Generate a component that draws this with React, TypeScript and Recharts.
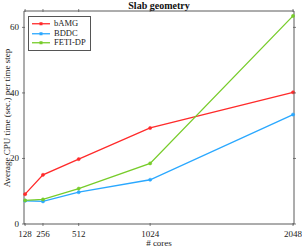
import React from "react";
import { LineChart, Line, XAxis, YAxis } from "recharts";

const cores = [128, 256, 512, 1024, 2048];
const bamg = [9.1, 15.0, 19.8, 29.3, 40.2];
const bddc = [7.1, 6.9, 9.7, 13.5, 33.4];
const fetidp = [7.2, 7.5, 10.8, 18.5, 63.5];
const xTicks = [128, 256, 512, 1024, 2048];
const yTicks = [0, 20, 40, 60];

const series = [
  { key: "bAMG", color: "#ff2a2a" },
  { key: "BDDC", color: "#2aa8ff" },
  { key: "FETI-DP", color: "#77cc2a" },
];

const data = cores.map((c, i) => ({
  cores: c,
  bAMG: bamg[i],
  BDDC: bddc[i],
  "FETI-DP": fetidp[i],
}));

const FONT = "'Liberation Serif', 'DejaVu Serif', serif";
const AXIS = "#5a5a5a";

function BottomTick(props: any) {
  const { x, y, payload } = props;
  return (
    <g>
      <line x1={x} y1={y} x2={x} y2={y - 3} stroke={AXIS} strokeWidth={0.8} />
      <text x={x} y={y + 11} textAnchor="middle" fontFamily={FONT} fontSize={9} fill="#222">
        {payload.value}
      </text>
    </g>
  );
}

function TopTick(props: any) {
  const { x, y } = props;
  return <line x1={x} y1={y} x2={x} y2={y + 3} stroke={AXIS} strokeWidth={0.8} />;
}

function LeftTick(props: any) {
  const { x, y, payload } = props;
  return (
    <g>
      <line x1={x} y1={y} x2={x + 3} y2={y} stroke={AXIS} strokeWidth={0.8} />
      <text x={x - 3} y={y + 3} textAnchor="end" fontFamily={FONT} fontSize={9} fill="#222">
        {payload.value}
      </text>
    </g>
  );
}

function RightTick(props: any) {
  const { x, y } = props;
  return <line x1={x} y1={y} x2={x - 3} y2={y} stroke={AXIS} strokeWidth={0.8} />;
}

function LegendBox() {
  return (
    <div
      style={{
        position: "absolute",
        left: 28,
        top: 16,
        border: "1px solid #555",
        background: "#fff",
        padding: "2px 4px 2px 2px",
        fontFamily: FONT,
        fontSize: 8.5,
        lineHeight: "9.5px",
        color: "#222",
      }}
    >
      {series.map((s) => (
        <div key={s.key} style={{ display: "flex", alignItems: "center" }}>
          <svg width={20} height={9.5} style={{ marginRight: 3 }}>
            <line x1={1} y1={4.75} x2={19} y2={4.75} stroke={s.color} strokeWidth={1.3} />
            <rect x={8.5} y={3.25} width={3} height={3} fill={s.color} />
          </svg>
          <span>{s.key}</span>
        </div>
      ))}
    </div>
  );
}

export default function App() {
  return (
    <div style={{ position: "fixed", left: 0, top: 0, width: 302, height: 248, background: "#fff" }}>
      <LineChart width={302} height={248} data={data} margin={{ top: 10, right: 7, bottom: 0, left: 0 }}>
        <XAxis
          dataKey="cores"
          type="number"
          domain={[120, 2055]}
          ticks={xTicks}
          height={24}
          tickLine={false}
          tickSize={0}
          tick={<BottomTick />}
          stroke={AXIS}
          interval={0}
        />
        <XAxis
          xAxisId="top"
          orientation="top"
          type="number"
          dataKey="cores"
          domain={[120, 2055]}
          ticks={xTicks}
          height={1}
          tickLine={false}
          tickSize={0}
          tick={<TopTick />}
          stroke={AXIS}
          interval={0}
        />
        <YAxis
          type="number"
          domain={[0, 65]}
          ticks={yTicks}
          width={24}
          tickLine={false}
          tickSize={0}
          tick={<LeftTick />}
          stroke={AXIS}
          interval={0}
        />
        <YAxis
          yAxisId="right"
          orientation="right"
          type="number"
          domain={[0, 65]}
          ticks={yTicks}
          width={1}
          tickLine={false}
          tickSize={0}
          tick={<RightTick />}
          stroke={AXIS}
          interval={0}
        />
        {/* invisible series so the top/right box axes get drawn */}
        <Line
          xAxisId="top"
          yAxisId="right"
          dataKey="bAMG"
          stroke="none"
          dot={false}
          activeDot={false}
          legendType="none"
          isAnimationActive={false}
        />
        {series.map((s) => (
          <Line
            key={s.key}
            dataKey={s.key}
            stroke={s.color}
            strokeWidth={1.3}
            dot={{ r: 1.6, fill: s.color, stroke: s.color, strokeWidth: 0.5 }}
            isAnimationActive={false}
            type="linear"
          />
        ))}
      </LineChart>
      <div
        style={{
          position: "absolute",
          left: 24,
          width: 270,
          top: 239,
          textAlign: "center",
          fontFamily: FONT,
          fontSize: 9,
          lineHeight: "9px",
          color: "#222",
        }}
      >
        # cores
      </div>
      <div
        style={{
          position: "absolute",
          left: 24,
          width: 270,
          top: 0,
          textAlign: "center",
          fontFamily: FONT,
          fontWeight: "bold",
          fontSize: 10,
          lineHeight: "11px",
          color: "#111",
        }}
      >
        Slab geometry
      </div>
      <div
        style={{
          position: "absolute",
          left: 6.5,
          top: 117.5,
          width: 220,
          marginLeft: -110,
          textAlign: "center",
          transform: "translateY(-50%) rotate(-90deg)",
          fontFamily: FONT,
          fontSize: 9,
          lineHeight: "10px",
          color: "#222",
          whiteSpace: "nowrap",
        }}
      >
        Average CPU time (sec.) per time step
      </div>
      <LegendBox />
    </div>
  );
}
